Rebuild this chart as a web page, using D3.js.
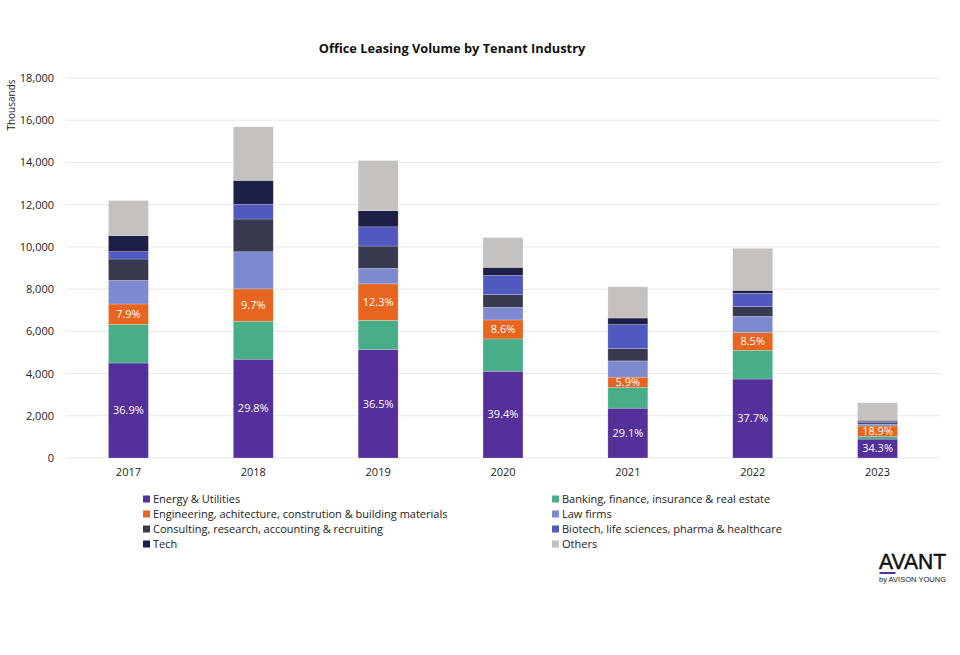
<!DOCTYPE html>
<html>
<head>
<meta charset="utf-8">
<script src="https://cdn.jsdelivr.net/npm/d3@7"></script>
<style>
  body { margin: 0; background: #fff; }
  svg { font-family: "Open Sans", sans-serif; }
</style>
</head>
<body>
<svg id="chart" width="960" height="655"></svg>
<script>
const years = ["2017", "2018", "2019", "2020", "2021", "2022", "2023"];
const industries = [
  "Energy & Utilities",
  "Banking, finance, insurance & real estate",
  "Engineering, achitecture, constrution & building materials",
  "Law firms",
  "Consulting, research, accounting & recruiting",
  "Biotech, life sciences, pharma & healthcare",
  "Tech",
  "Others"
];
// thousands of sq ft (axis in thousands)
const energy   = [4500, 4680, 5140, 4110, 2360, 3740, 895];
const banking  = [1830, 1800, 1380, 1530, 990, 1360, 130];
const engineer = [965, 1530, 1730, 900, 480, 840, 490];
const law      = [1120, 1760, 730, 600, 770, 770, 80];
const consult  = [1010, 1550, 1060, 600, 590, 460, 70];
const biotech  = [350, 700, 910, 910, 1130, 630, 60];
const tech     = [760, 1130, 770, 380, 310, 140, 60];
const others   = [1660, 2540, 2370, 1410, 1480, 1990, 830];
const energyPct = ["36.9%", "29.8%", "36.5%", "39.4%", "29.1%", "37.7%", "34.3%"];
const engPct    = ["7.9%", "9.7%", "12.3%", "8.6%", "5.9%", "8.5%", "18.9%"];
const yTicks = [0, 2000, 4000, 6000, 8000, 10000, 12000, 14000, 16000, 18000];

const colors = ["#55309a", "#47ae87", "#e8651f", "#7d8ad0", "#383a4f", "#4f59c0", "#1e1f46", "#c4c1be"];
const seriesValues = [energy, banking, engineer, law, consult, biotech, tech, others];

const table = years.map((y, i) => {
  const row = { year: y };
  industries.forEach((k, j) => row[k] = seriesValues[j][i]);
  return row;
});

const svg = d3.select("#chart");
const margin = { left: 66, right: 20, top: 78, bottom: 197 };
const W = 960, H = 655;

const x = d3.scaleBand().domain(years).range([margin.left, W - margin.right]).paddingInner(0.68).paddingOuter(0.34);
const y = d3.scaleLinear().domain([0, 18000]).range([H - margin.bottom, margin.top]);

// gridlines
svg.append("g")
  .selectAll("line")
  .data(yTicks)
  .join("line")
  .attr("x1", margin.left)
  .attr("x2", W - margin.right)
  .attr("y1", d => y(d))
  .attr("y2", d => y(d))
  .attr("stroke", "#e8e8e8")
  .attr("stroke-width", 1);

// y axis
const yAxis = svg.append("g")
  .attr("transform", "translate(" + margin.left + ",0)")
  .call(d3.axisLeft(y).tickValues(yTicks).tickFormat(d3.format(",")).tickSize(0).tickPadding(12));
yAxis.select(".domain").remove();
yAxis.selectAll("text").attr("font-size", 11).attr("fill", "#222").attr("font-family", "Open Sans");

// x axis
const xAxis = svg.append("g")
  .attr("transform", "translate(0," + y(0) + ")")
  .call(d3.axisBottom(x).tickSize(0).tickPadding(10));
xAxis.select(".domain").remove();
xAxis.selectAll("text").attr("font-size", 11).attr("fill", "#222").attr("font-family", "Open Sans");

// stacked bars
const stack = d3.stack().keys(industries)(table);

svg.append("g")
  .selectAll("g")
  .data(stack)
  .join("g")
  .attr("fill", (d, i) => colors[i])
  .selectAll("rect")
  .data(d => d)
  .join("rect")
  .attr("x", d => x(d.data.year))
  .attr("width", x.bandwidth())
  .attr("y", d => y(d[1]))
  .attr("height", d => y(d[0]) - y(d[1]))
  .attr("stroke", "#ffffff")
  .attr("stroke-opacity", 0.35)
  .attr("stroke-width", 0.6);

// percentage labels
const labelSets = [[0, energyPct], [2, engPct]];
labelSets.forEach(([si, pcts]) => {
  svg.append("g")
    .selectAll("text")
    .data(stack[si])
    .join("text")
    .attr("x", d => x(d.data.year) + x.bandwidth() / 2)
    .attr("y", d => y((d[0] + d[1]) / 2))
    .attr("dy", "0.35em")
    .attr("text-anchor", "middle")
    .attr("fill", "#fff")
    .attr("font-size", 11)
    .text((d, i) => pcts[i]);
});

// title
svg.append("text")
  .attr("x", 452)
  .attr("y", 53)
  .attr("text-anchor", "middle")
  .attr("font-size", 12.8)
  .attr("font-weight", "bold")
  .attr("fill", "#111")
  .text("Office Leasing Volume by Tenant Industry");

// y axis title
svg.append("text")
  .attr("transform", "translate(15,105) rotate(-90)")
  .attr("text-anchor", "middle")
  .attr("font-size", 10)
  .attr("fill", "#222")
  .text("Thousands");

// legend
const legend = svg.append("g");
const legItems = legend.selectAll("g")
  .data(industries)
  .join("g")
  .attr("transform", (d, i) => "translate(" + (i % 2 === 0 ? 143 : 552) + "," + (499 + Math.floor(i / 2) * 15) + ")");
legItems.append("rect")
  .attr("x", 0)
  .attr("y", -3.5)
  .attr("width", 7)
  .attr("height", 7)
  .attr("fill", (d, i) => colors[i]);
legItems.append("text")
  .attr("x", 10)
  .attr("dy", "0.35em")
  .attr("font-size", 11)
  .attr("fill", "#222")
  .text(d => d);

// logo
const logo = svg.append("g").attr("transform", "translate(879,0)");
logo.append("text")
  .attr("x", 0)
  .attr("y", 569)
  .attr("font-size", 22)
  .attr("font-family", "Liberation Sans, Arial, sans-serif")
  .attr("fill", "#111")
  .attr("stroke", "#111")
  .attr("stroke-width", 0.5)
  .attr("textLength", 67)
  .attr("lengthAdjust", "spacingAndGlyphs")
  .text("AVANT");
logo.append("rect")
  .attr("x", 0.5)
  .attr("y", 572)
  .attr("width", 16)
  .attr("height", 2)
  .attr("fill", "#55309a");
logo.append("text")
  .attr("x", 0)
  .attr("y", 582)
  .attr("font-size", 6.5)
  .attr("font-family", "Liberation Sans, Arial, sans-serif")
  .attr("fill", "#222")
  .attr("textLength", 67)
  .attr("lengthAdjust", "spacingAndGlyphs")
  .text("by AVISON YOUNG");
</script>
</body>
</html>
